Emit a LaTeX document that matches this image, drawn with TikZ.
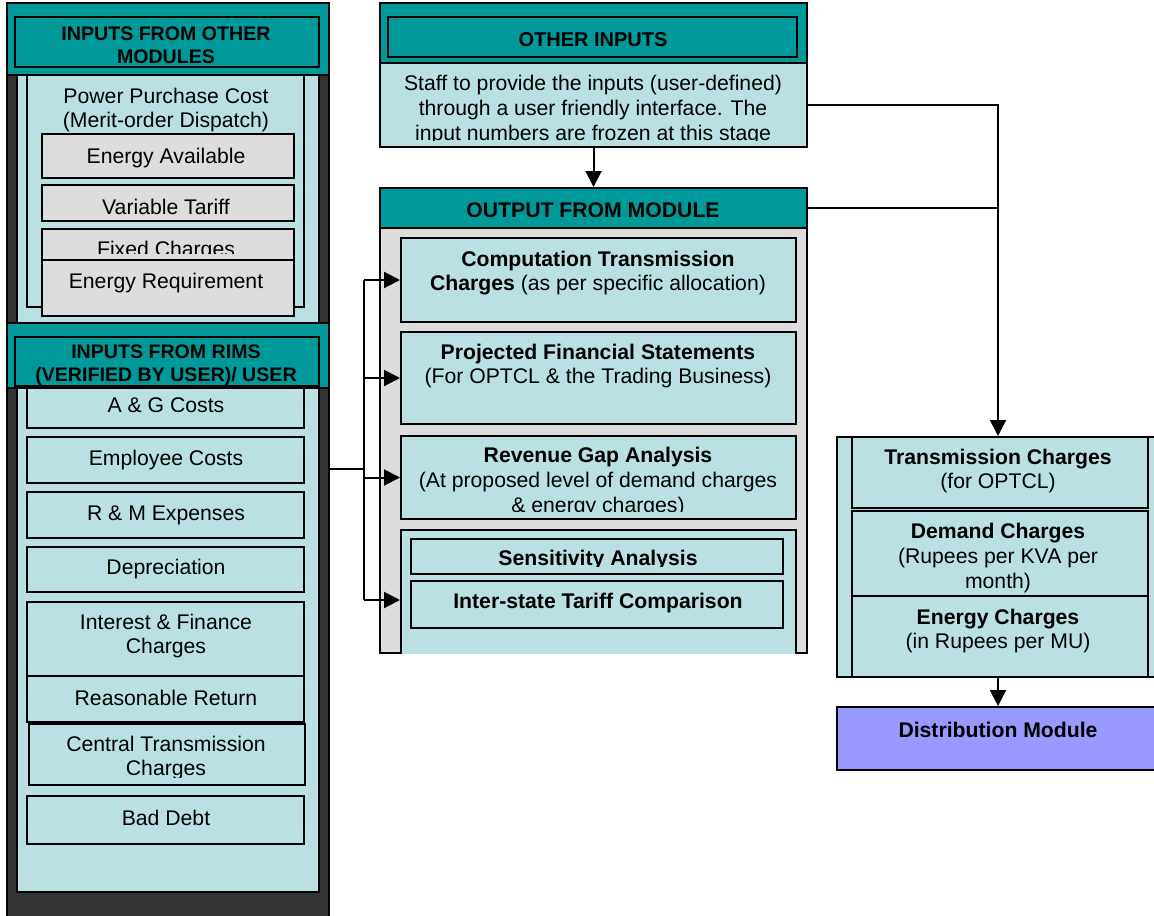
\documentclass[tikz,border=0pt]{standalone}
\usepackage{fontspec}
\setmainfont{Liberation Sans}
\usetikzlibrary{arrows.meta,fit,positioning}

\definecolor{headteal}{HTML}{009999}
\definecolor{paleblue}{HTML}{BBE0E3}
\definecolor{darkside}{HTML}{333333}
\definecolor{greybox}{HTML}{DDDDDD}
\definecolor{distblue}{HTML}{9999FF}

% a box given by its two corners, in pixels
\newcommand{\blk}[6]{\node[#1, fit={(#3,#4) (#5,#6)}] (#2) {};}

\begin{document}
\begin{tikzpicture}[x=0.5pt,y=-0.5pt,
  box/.style={draw=black,line width=1pt,inner sep=0pt},
  head/.style={box,fill=headteal},
  pale/.style={box,fill=paleblue},
  grey/.style={box,fill=greybox},
  txt/.style={align=center,inner sep=0pt,yshift=-1pt,font=\fontsize{10.6}{12.3}\selectfont},
  htxt/.style={txt,font=\bfseries\fontsize{9.8}{11.5}\selectfont},
  btxt/.style={txt,font=\bfseries\fontsize{10.6}{12.3}\selectfont},
  arr/.style={-{Triangle[length=8pt,width=8pt]},line width=1pt}]
\def\xL{166}
\def\xM{598}
\def\xR{998}
\useasboundingbox (0,0) rectangle (1154,915);

% left column
\blk{box,fill=darkside}{leftcol}{7}{3}{329}{930}
\blk{pale}{ppanel}{17}{60}{319}{330}
\blk{pale}{rpanel}{17}{380}{319}{892}
\blk{pale}{ppc}{27}{70}{304}{307}
\node[txt] (ppc-t) at (\xL,108) {Power Purchase Cost\\(Merit-order Dispatch)};
\blk{grey}{eav}{42}{134}{294}{178}
\node[txt] (eav-t) at (\xL,156) {Energy Available};
\blk{grey}{vtar}{42}{185}{294}{221}
\node[txt] (vtar-t) at (\xL,205) {Variable Tariff};
\blk{grey}{fixc}{42}{229}{294}{275}
\begin{scope}
\clip (42,229) rectangle (294,253);
\node[txt] (fixc-t) at (\xL,249) {Fixed Charges};
\end{scope}
\blk{grey}{ereq}{42}{260}{294}{316}
\node[txt] (ereq-t) at (\xL,281) {Energy Requirement};
\blk{head}{ohead}{7}{3}{329}{75}
\blk{head}{ohead-in}{15}{17}{319}{67}
\node[htxt] (ohead-t) at (\xL,43) {INPUTS FROM OTHER\\MODULES};

\blk{pale}{ag}{27}{370}{304}{428}
\node[txt] (ag-t) at (\xL,403) {A \& G Costs};
\blk{head}{rhead}{7}{323}{329}{388}
\blk{head}{rhead-in}{15}{337}{319}{386}
\node[htxt] (rhead-t) at (\xL,363) {INPUTS FROM RIMS\\(VERIFIED BY USER)/ USER};
\blk{pale}{emp}{27}{437}{304}{483}
\node[txt] (emp-t) at (\xL,458) {Employee Costs};
\blk{pale}{rm}{27}{492}{304}{538}
\node[txt] (rm-t) at (\xL,513) {R \& M Expenses};
\blk{pale}{dep}{27}{547}{304}{592}
\node[txt] (dep-t) at (\xL,567) {Depreciation};
\blk{pale}{intf}{27}{602}{304}{676}
\node[txt] (intf-t) at (\xL,634) {Interest \& Finance\\Charges};
\blk{pale}{ret}{27}{676}{304}{722}
\node[txt] (ret-t) at (\xL,696) {Reasonable Return};
\blk{pale}{ctc}{29}{724}{305}{785}
\begin{scope}
\clip (29,724) rectangle (305,777);
\node[txt] (ctc-t) at (\xL,756) {Central Transmission\\Charges};
\end{scope}
\blk{pale}{bad}{27}{796}{304}{844}
\node[txt] (bad-t) at (\xL,816) {Bad Debt};

% middle column
\blk{head}{ihead}{380}{3}{807}{63}
\blk{head}{ihead-in}{388}{17}{797}{57}
\node[btxt,font=\bfseries\fontsize{10}{12}\selectfont] (ihead-t) at (593,38) {OTHER INPUTS};
\blk{pale}{ibody}{380}{63}{807}{147}
\begin{scope}
\clip (380,63) rectangle (807,140);
\node[txt] (ibody-t) at (593,108) {Staff to provide the inputs (user-defined)\\through a user friendly interface. The\\input numbers are frozen at this stage};
\end{scope}

\blk{head}{ohd}{380}{188}{807}{228}
\node[btxt] (ohd-t) at (593,208) {OUTPUT FROM MODULE};
\blk{grey}{obody}{380}{228}{807}{653}
\blk{pale}{comp}{401}{238}{796}{322}
\node[txt] (comp-t) at (\xM,271) {\textbf{Computation Transmission}\\\textbf{Charges} (as per specific allocation)};
\blk{pale}{proj}{401}{332}{796}{424}
\node[txt] (proj-t) at (\xM,364) {\textbf{Projected Financial Statements}\\(For OPTCL \& the Trading Business)};
\blk{pale}{rev}{401}{436}{796}{519}
\begin{scope}
\clip (401,436) rectangle (796,511);
\node[txt] (rev-t) at (\xM,480) {\textbf{Revenue Gap Analysis}\\(At proposed level of demand charges\\\& energy charges)};
\end{scope}
\begin{scope}
\clip (380,228) rectangle (807,653);
\blk{pale}{cmp}{401}{530}{796}{670}
\end{scope}
\blk{pale}{sens}{411}{539}{783}{574}
\begin{scope}
\clip (411,539) rectangle (783,566);
\node[btxt] (sens-t) at (\xM,558) {Sensitivity Analysis};
\end{scope}
\blk{pale}{inter}{411}{581}{783}{628}
\node[btxt] (inter-t) at (\xM,601) {Inter-state Tariff Comparison};

% right column
\blk{pale}{rbox}{837}{437}{1159}{677}
\blk{pale}{tch}{852}{437}{1148}{508}
\node[txt] (tch-t) at (\xR,469) {\textbf{Transmission Charges}\\(for OPTCL)};
\blk{pale}{dch}{852}{511}{1148}{596}
\node[txt] (dch-t) at (\xR,556) {\textbf{Demand Charges}\\(Rupees per KVA per\\month)};
\blk{pale}{ech}{852}{596}{1148}{677}
\node[txt] (ech-t) at (\xR,629) {\textbf{Energy Charges}\\(in Rupees per MU)};
\blk{box,fill=distblue}{dist}{837}{707}{1159}{770}
\node[btxt] (dist-t) at (\xR,728) {Distribution Module};

% connectors
\coordinate (bus) at (364,469);
\begin{scope}[every path/.style={draw,line width=1pt}]
\path (leftcol.east |- bus) -- (bus);
\path (bus |- comp.west) -- (bus |- cmp.west);
\path (ohd.east) -- (ohd.east -| rbox.north);
\end{scope}
\foreach \n in {comp,proj,rev,cmp}
  \draw[arr] (bus |- \n.west) -- (\n.west);
\draw[arr] (ibody.south) -- (ohd.north);
\draw[arr] (ibody.east) -| (rbox.north);
\draw[arr] (rbox.south) -- (dist.north);
\end{tikzpicture}
\end{document}
